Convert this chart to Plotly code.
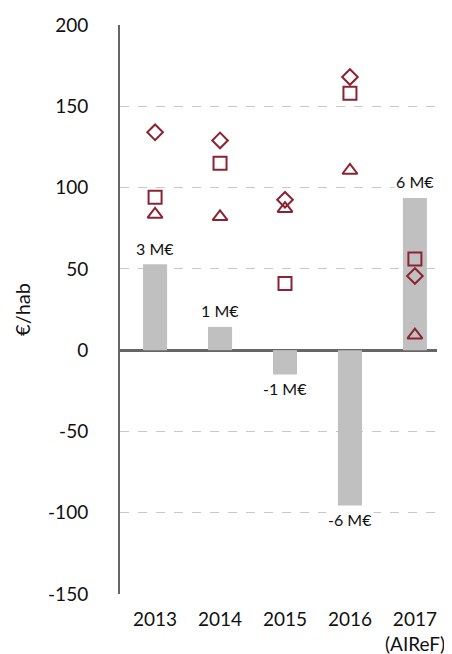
import plotly.graph_objects as go

years = ["2013", "2014", "2015", "2016", "2017"]
year_notes = ["", "", "", "", "(AIReF)"]
bar_values = [52.8, 14.3, -15.0, -95.6, 93.6]
bar_labels = ["3 M€", "1 M€", "-1 M€", "-6 M€", "6 M€"]
diamond_values = [134, 129, 92.5, 168, 45.6]
square_values = [94, 115, 41, 158, 56]
triangle_values = [83.5, 82, 87, 110.5, 9.2]
y_ticks = [-150, -100, -50, 0, 50, 100, 150, 200]
y_tick_labels = ["-150", "-100", "-50", "0", "50", "100", "150", "200"]

red = "#8B2332"
font_family = "Lato, 'Open Sans', sans-serif"

xs = list(range(len(years)))

fig = go.Figure()
fig.add_trace(go.Bar(x=xs, y=bar_values, width=0.37, marker_color="#C0C0C0",
                     marker_line_width=0, showlegend=False))
for vals, sym, size in [(diamond_values, "diamond-open", 12),
                        (square_values, "square-open", 13),
                        (triangle_values, "triangle-up-open", 13)]:
    fig.add_trace(go.Scatter(x=xs, y=vals, mode="markers", showlegend=False,
                             marker=dict(symbol=sym, size=size, color=red,
                                         line=dict(color=red, width=2))))

for x, v, t in zip(xs, bar_values, bar_labels):
    fig.add_annotation(x=x, y=v, text=t, showarrow=False,
                       yshift=16 if v >= 0 else -14,
                       bgcolor="white", borderpad=1,
                       font=dict(family=font_family, size=16, color="#111"))

for x, note in zip(xs, year_notes):
    if note:
        fig.add_annotation(x=x, xref="x", y=0, yref="paper", text=note,
                           showarrow=False, yanchor="middle", yshift=-49,
                           font=dict(family=font_family, size=19, color="#111"))

# page body has an 8px margin, so the figure is 8px smaller to fit the window
fig.update_layout(
    width=444, height=646,
    margin=dict(l=112, r=15, t=17, b=60),
    plot_bgcolor="white", paper_bgcolor="white",
    font=dict(family=font_family, color="#111"),
)
fig.update_xaxes(range=[-0.54, 4.34], showgrid=False, zeroline=False,
                 showline=False, ticks="outside", ticklen=8,
                 tickcolor="rgba(0,0,0,0)", tickvals=xs, ticktext=years,
                 tickfont=dict(size=19), automargin=False)
fig.update_yaxes(range=[-150, 200], tickvals=y_ticks, ticktext=y_tick_labels,
                 showgrid=True, gridcolor="#C8C8C8", griddash="dash", gridwidth=1,
                 zeroline=True, zerolinecolor="#666666", zerolinewidth=2.5,
                 showline=True, linecolor="#666666", linewidth=2,
                 ticks="outside", ticklen=26, tickcolor="rgba(0,0,0,0)",
                 tickfont=dict(size=19), automargin=False,
                 title=dict(text="€/hab", font=dict(size=20), standoff=12))

fig.write_html("out.html")
